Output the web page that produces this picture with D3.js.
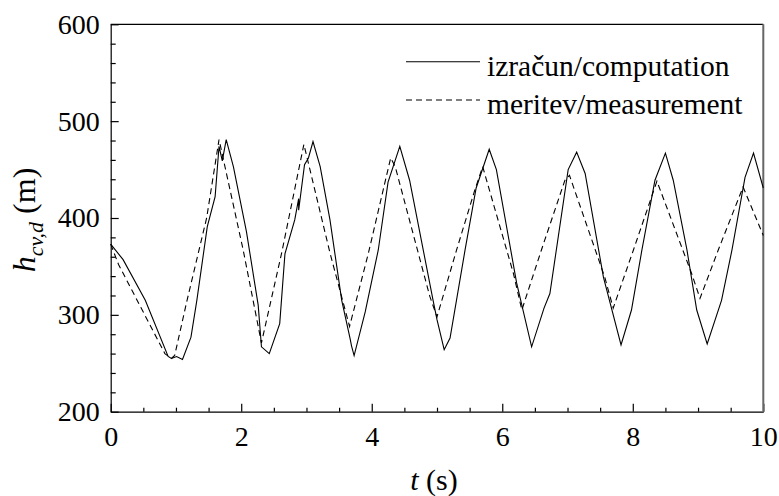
<!DOCTYPE html>
<html>
<head>
<meta charset="utf-8">
<script src="https://cdn.jsdelivr.net/npm/d3@7/dist/d3.min.js"></script>
<style>
  body { margin: 0; background: #fff; }
  svg { display: block; font-family: "Liberation Serif", "Times New Roman", serif; }
  .axis text { font-family: "Liberation Serif", "Times New Roman", serif; font-size: 28px; fill: #000; }
  .axis path, .axis line { stroke: #000; stroke-width: 1.2; }
</style>
</head>
<body>
<div id="chart"></div>
<script>
// Data
// ===========================
// izračun/computation (solid)
var tComp = [0, 0.19, 0.53, 0.88, 0.93, 1.01, 1.10, 1.23, 1.32, 1.48, 1.60, 1.66, 1.71, 1.77, 1.88, 2.08, 2.26, 2.31, 2.43, 2.59, 2.67, 2.82, 2.88, 2.88, 2.97, 3.03, 3.10, 3.21, 3.36, 3.54, 3.67, 3.69, 3.73, 3.90, 4.10, 4.25, 4.43, 4.58, 4.94, 5.00, 5.11, 5.20, 5.43, 5.60, 5.80, 5.91, 6.22, 6.45, 6.64, 6.73, 7.01, 7.14, 7.27, 7.55, 7.82, 7.98, 8.14, 8.34, 8.50, 8.62, 8.83, 8.98, 9.14, 9.36, 9.52, 9.72, 9.85, 10];
var hComp = [373, 357, 315, 257, 255, 257, 254, 277, 315, 391, 422, 474, 459, 481, 453, 386, 310, 267, 260, 291, 363, 398, 420, 408, 455, 462, 479, 453, 398, 315, 275, 268, 258, 303, 367, 437, 474, 439, 315, 295, 264, 276, 367, 431, 471, 450, 333, 267, 307, 322, 450, 468, 446, 339, 269, 305, 367, 439, 467, 439, 367, 305, 270, 315, 367, 442, 467, 431];

// meritev/measurement (dashed)
var tMeas = [0, 0.12, 0.83, 0.93, 0.98, 1.17, 1.47, 1.66, 2.03, 2.31, 2.62, 2.96, 3.36, 3.66, 3.95, 4.29, 4.36, 4.89, 5.00, 5.30, 5.58, 5.70, 6.17, 6.30, 6.60, 6.96, 7.03, 7.57, 7.70, 8.01, 8.37, 8.90, 9.03, 9.31, 9.69, 10];
var hMeas = [373, 352, 260, 255, 258, 315, 400, 481, 367, 271, 364, 476, 364, 288, 364, 462, 453, 319, 298, 367, 429, 453, 343, 305, 367, 439, 444, 339, 307, 367, 438, 343, 317, 367, 432, 382];

var xTicks = [0, 2, 4, 6, 8, 10];
var xMinor = [0.5, 1, 1.5, 2.5, 3, 3.5, 4.5, 5, 5.5, 6.5, 7, 7.5, 8.5, 9, 9.5];
var yTicks = [200, 300, 400, 500, 600];
var yMinor = [220, 240, 260, 280, 320, 340, 360, 380, 420, 440, 460, 480, 520, 540, 560, 580];

var legendNames = ["izračun/computation", "meritev/measurement"];

// Canvas
// ===========================
var width = 779;
var height = 496;
var plotLeft = 110.7, plotRight = 763.3, plotTop = 24.3, plotBottom = 411.7;

var svg = d3.select("#chart")
  .append("svg")
  .attr("width", width)
  .attr("height", height);

var xScale = d3.scaleLinear().domain([0, 10]).range([plotLeft, plotRight]);
var yScale = d3.scaleLinear().domain([200, 600]).range([plotBottom, plotTop]);

// Axes (ticks point inward)
// ===========================
svg.append("g")
  .attr("class", "axis")
  .attr("transform", "translate(0," + plotBottom + ")")
  .call(d3.axisBottom(xScale).tickValues(xTicks).tickSizeInner(-8).tickSizeOuter(0).tickPadding(14).tickFormat(d3.format("d")));

svg.append("g")
  .attr("class", "axis")
  .attr("transform", "translate(0," + plotBottom + ")")
  .call(d3.axisBottom(xScale).tickValues(xMinor).tickSizeInner(-4).tickSizeOuter(0).tickFormat(""))
  .select(".domain").remove();

svg.append("g")
  .attr("class", "axis")
  .attr("transform", "translate(" + plotLeft + ",0)")
  .call(d3.axisLeft(yScale).tickValues(yTicks).tickSizeInner(-8).tickSizeOuter(0).tickPadding(11));

svg.append("g")
  .attr("class", "axis")
  .attr("transform", "translate(" + plotLeft + ",0)")
  .call(d3.axisLeft(yScale).tickValues(yMinor).tickSizeInner(-5).tickSizeOuter(0).tickFormat(""))
  .select(".domain").remove();

// Frame on top and right
svg.append("line")
  .attr("x1", plotLeft).attr("x2", plotRight)
  .attr("y1", plotTop).attr("y2", plotTop)
  .attr("stroke", "#000").attr("stroke-width", 1.2);
svg.append("line")
  .attr("x1", plotRight).attr("x2", plotRight)
  .attr("y1", plotTop).attr("y2", plotBottom)
  .attr("stroke", "#666").attr("stroke-width", 2);

// Lines
// ===========================
var line = d3.line()
  .x(function(d) { return xScale(d[0]); })
  .y(function(d) { return yScale(d[1]); });

var compData = tComp.map(function(t, i) { return [t, hComp[i]]; });
var measData = tMeas.map(function(t, i) { return [t, hMeas[i]]; });

svg.append("path")
  .datum(measData)
  .attr("d", line)
  .attr("fill", "none")
  .attr("stroke", "#000")
  .attr("stroke-width", 1.1)
  .attr("stroke-dasharray", "6,4");

svg.append("path")
  .datum(compData)
  .attr("d", line)
  .attr("fill", "none")
  .attr("stroke", "#000")
  .attr("stroke-width", 1.1);

// Legend
// ===========================
var legend = svg.append("g")
  .style("font-size", "29.5px");

legendNames.forEach(function(name, i) {
  var ly = 61.7 + i * 38.3;
  legend.append("line")
    .attr("x1", 406).attr("x2", 480)
    .attr("y1", ly).attr("y2", ly)
    .attr("stroke", "#000")
    .attr("stroke-width", 1.1)
    .attr("stroke-dasharray", i === 1 ? "6,4" : null);
  legend.append("text")
    .attr("x", 487)
    .attr("y", ly + 14)
    .text(name);
});

// Axis titles
// ===========================
var xTitle = svg.append("text")
  .attr("x", 434)
  .attr("y", 490)
  .attr("text-anchor", "middle")
  .style("font-size", "30px");
xTitle.append("tspan").style("font-style", "italic").text("t");
xTitle.append("tspan").text(" (s)");

var yTitle = svg.append("text")
  .attr("transform", "translate(35,220) rotate(-90)")
  .attr("text-anchor", "middle")
  .style("font-size", "32px");
yTitle.append("tspan").style("font-style", "italic").text("h");
yTitle.append("tspan").style("font-style", "italic").style("font-size", "22px").attr("dy", 8).text("cv,d");
yTitle.append("tspan").attr("dy", -8).text(" (m)");
</script>
</body>
</html>
